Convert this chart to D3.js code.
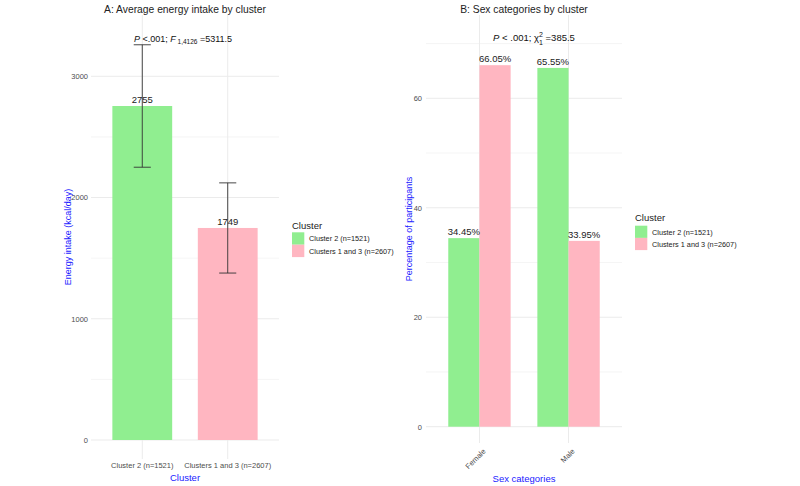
<!DOCTYPE html>
<html>
<head>
<meta charset="utf-8">
<script src="https://cdn.jsdelivr.net/npm/d3@7"></script>
<style>
  body { margin: 0; background: #fff; }
  text { font-family: "Liberation Sans", Arial, sans-serif; }
</style>
</head>
<body>
<div id="chart"></div>
<script>
// ---------------------------//
//            DATA            //
// ---------------------------//
var clusters = ["Cluster 2 (n=1521)", "Clusters 1 and 3 (n=2607)"];
var energyMean = [2755, 1749];
var energySD = [505, 372];
var sexCats = ["Female", "Male"];
var pctCluster2 = [34.45, 65.55];
var pctCluster13 = [66.05, 33.95];
var energyTicks = [0, 1000, 2000, 3000];
var energyMinor = [500, 1500, 2500];
var pctTicks = [0, 20, 40, 60];
var pctMinor = [10, 30, 50, 70];
var colors = ["#90EE90", "#FFB6C1"];

var width = 800, height = 486;
var gridCol = "#ebebeb", tickCol = "#4d4d4d", titleBlue = "#1a1aff";

var svg = d3.select("#chart").append("svg")
  .attr("width", width).attr("height", height)
  .attr("viewBox", [0, 0, width, height]);

// ---------------------------//
//        PANEL A             //
// ---------------------------//
var A = { left: 91, right: 279, top: 15, bottom: 459 };

var xA = d3.scaleBand().domain(clusters)
  .range([A.left, A.right]).paddingInner(0.3).paddingOuter(0.25);
var yA = d3.scaleLinear().domain([0, 3000]).range([440, 76.3]);

var gA = svg.append("g");

// gridlines
gA.selectAll(".minor").data(energyMinor).enter().append("line")
  .attr("x1", A.left).attr("x2", A.right)
  .attr("y1", d => yA(d)).attr("y2", d => yA(d))
  .attr("stroke", gridCol).attr("stroke-width", 0.5);
gA.selectAll(".major").data(energyTicks).enter().append("line")
  .attr("x1", A.left).attr("x2", A.right)
  .attr("y1", d => yA(d)).attr("y2", d => yA(d))
  .attr("stroke", gridCol).attr("stroke-width", 1);
gA.selectAll(".vgrid").data(clusters).enter().append("line")
  .attr("x1", d => xA(d) + xA.bandwidth() / 2).attr("x2", d => xA(d) + xA.bandwidth() / 2)
  .attr("y1", A.top).attr("y2", A.bottom)
  .attr("stroke", gridCol).attr("stroke-width", 1);

// bars
gA.selectAll(".bar").data(clusters).enter().append("rect")
  .attr("x", d => xA(d))
  .attr("width", xA.bandwidth())
  .attr("y", (d, i) => yA(energyMean[i]))
  .attr("height", (d, i) => yA(0) - yA(energyMean[i]))
  .attr("fill", (d, i) => colors[i]);

// error bars
var capW = xA.step() * 0.1;
clusters.forEach(function(c, i) {
  var cx = xA(c) + xA.bandwidth() / 2;
  var hi = yA(energyMean[i] + energySD[i]), lo = yA(energyMean[i] - energySD[i]);
  gA.append("line").attr("x1", cx).attr("x2", cx).attr("y1", hi).attr("y2", lo)
    .attr("stroke", "#333").attr("stroke-width", 0.9);
  [hi, lo].forEach(function(yy) {
    gA.append("line").attr("x1", cx - capW).attr("x2", cx + capW).attr("y1", yy).attr("y2", yy)
      .attr("stroke", "#333").attr("stroke-width", 0.9);
  });
});

// value labels
gA.selectAll(".val").data(clusters).enter().append("text")
  .attr("x", d => xA(d) + xA.bandwidth() / 2)
  .attr("y", (d, i) => yA(energyMean[i]) - 3)
  .attr("text-anchor", "middle").style("font-size", "9.5px").attr("fill", "#222")
  .text((d, i) => energyMean[i]);

// axes
gA.append("g").attr("transform", "translate(" + A.left + ",0)")
  .call(d3.axisLeft(yA).tickValues(energyTicks).tickFormat(d3.format("d")).tickSize(0).tickPadding(3))
  .call(g => g.select(".domain").remove())
  .selectAll("text").style("font-size", "7.5px").attr("fill", tickCol);
gA.append("g").attr("transform", "translate(0," + A.bottom + ")")
  .call(d3.axisBottom(xA).tickSize(0).tickPadding(4))
  .call(g => g.select(".domain").remove())
  .selectAll("text").style("font-size", "7.5px").attr("fill", tickCol);

gA.append("text").attr("x", (A.left + A.right) / 2).attr("y", 481)
  .attr("text-anchor", "middle").style("font-size", "9.5px").attr("fill", titleBlue)
  .text("Cluster");
gA.append("text").attr("transform", "translate(70.5," + ((A.top + A.bottom) / 2) + ") rotate(-90)")
  .attr("text-anchor", "middle").style("font-size", "9px").attr("fill", titleBlue)
  .text("Energy intake (kcal/day)");

gA.append("text").attr("x", (A.left + A.right) / 2).attr("y", 13)
  .attr("text-anchor", "middle").style("font-size", "10.3px").attr("fill", "#222")
  .text("A: Average energy intake by cluster");

var annA = gA.append("text").attr("x", 183).attr("y", 42)
  .attr("text-anchor", "middle").style("font-size", "9px").attr("fill", "#111");
annA.append("tspan").style("font-style", "italic").text("P");
annA.append("tspan").text(" <.001;  ");
annA.append("tspan").style("font-style", "italic").text("F");
annA.append("tspan").attr("dy", 2).style("font-size", "6.5px").text(" 1,4126");
annA.append("tspan").attr("dy", -2).text(" =5311.5");

// legend A
var legA = gA.append("g");
legA.append("text").attr("x", 292).attr("y", 228.5).style("font-size", "9.5px").attr("fill", "#222").text("Cluster");
clusters.forEach(function(c, i) {
  legA.append("rect").attr("x", 292).attr("y", 232.3 + i * 12.4).attr("width", 12.3).attr("height", 12.4).attr("fill", colors[i]);
  legA.append("text").attr("x", 309).attr("y", 232.3 + i * 12.4 + 9).style("font-size", "7.3px").attr("fill", "#222").text(c);
});

// ---------------------------//
//        PANEL B             //
// ---------------------------//
var B = { left: 426, right: 622, top: 15, bottom: 443 };

var xB = d3.scaleBand().domain(sexCats)
  .range([B.left, B.right]).paddingInner(0.3).paddingOuter(0.25);
var xBin = d3.scaleBand().domain(clusters).range([0, xB.bandwidth()]);
var yB = d3.scaleLinear().domain([0, 60]).range([426.7, 98.3]);

var gB = svg.append("g");

gB.selectAll(".minor").data(pctMinor).enter().append("line")
  .attr("x1", B.left).attr("x2", B.right)
  .attr("y1", d => yB(d)).attr("y2", d => yB(d))
  .attr("stroke", gridCol).attr("stroke-width", 0.5);
gB.selectAll(".major").data(pctTicks).enter().append("line")
  .attr("x1", B.left).attr("x2", B.right)
  .attr("y1", d => yB(d)).attr("y2", d => yB(d))
  .attr("stroke", gridCol).attr("stroke-width", 1);
gB.selectAll(".vgrid").data(sexCats).enter().append("line")
  .attr("x1", d => xB(d) + xB.bandwidth() / 2).attr("x2", d => xB(d) + xB.bandwidth() / 2)
  .attr("y1", B.top).attr("y2", B.bottom)
  .attr("stroke", gridCol).attr("stroke-width", 1);

var pctSeries = [pctCluster2, pctCluster13];
var barsB = [];
sexCats.forEach(function(s, j) {
  clusters.forEach(function(c, i) {
    barsB.push({ sex: s, cluster: c, ci: i, v: pctSeries[i][j] });
  });
});

gB.selectAll(".bar").data(barsB).enter().append("rect")
  .attr("x", d => xB(d.sex) + xBin(d.cluster))
  .attr("width", xBin.bandwidth())
  .attr("y", d => yB(d.v))
  .attr("height", d => yB(0) - yB(d.v))
  .attr("fill", d => colors[d.ci]);

gB.selectAll(".val").data(barsB).enter().append("text")
  .attr("x", d => xB(d.sex) + xBin(d.cluster) + xBin.bandwidth() / 2)
  .attr("y", d => yB(d.v) - 3)
  .attr("text-anchor", "middle").style("font-size", "9.5px").attr("fill", "#222")
  .text(d => d.v.toFixed(2) + "%");

gB.append("g").attr("transform", "translate(" + B.left + ",0)")
  .call(d3.axisLeft(yB).tickValues(pctTicks).tickSize(0).tickPadding(4))
  .call(g => g.select(".domain").remove())
  .selectAll("text").style("font-size", "7.5px").attr("fill", tickCol);

gB.selectAll(".xlab").data(sexCats).enter().append("text")
  .attr("transform", d => "translate(" + (xB(d) + xB.bandwidth() / 2 + 3) + "," + (B.bottom + 5) + ") rotate(-45)")
  .attr("text-anchor", "end").attr("dy", "0.71em")
  .style("font-size", "7.5px").attr("fill", tickCol)
  .text(d => d);

gB.append("text").attr("x", (B.left + B.right) / 2).attr("y", 482)
  .attr("text-anchor", "middle").style("font-size", "9.5px").attr("fill", titleBlue)
  .text("Sex categories");
gB.append("text").attr("transform", "translate(412," + ((B.top + B.bottom) / 2) + ") rotate(-90)")
  .attr("text-anchor", "middle").style("font-size", "9px").attr("fill", titleBlue)
  .text("Percentage of participants");

gB.append("text").attr("x", (B.left + B.right) / 2).attr("y", 13)
  .attr("text-anchor", "middle").style("font-size", "10.3px").attr("fill", "#222")
  .text("B: Sex categories by cluster");

var annB = gB.append("text").attr("x", 534).attr("y", 41)
  .attr("text-anchor", "middle").style("font-size", "9.5px").attr("fill", "#111");
annB.append("tspan").style("font-style", "italic").text("P");
annB.append("tspan").text(" < .001;  \u03C7");
annB.append("tspan").attr("dy", -4).style("font-size", "7px").text("2");
annB.append("tspan").attr("dx", -3.9).attr("dy", 8).style("font-size", "7px").text("1");
annB.append("tspan").attr("dy", -4).text(" =385.5");

var legB = gB.append("g");
legB.append("text").attr("x", 635).attr("y", 220.5).style("font-size", "9.5px").attr("fill", "#222").text("Cluster");
clusters.forEach(function(c, i) {
  legB.append("rect").attr("x", 635).attr("y", 225.7 + i * 12.2).attr("width", 12.3).attr("height", 12.2).attr("fill", colors[i]);
  legB.append("text").attr("x", 652).attr("y", 225.7 + i * 12.2 + 9).style("font-size", "7.3px").attr("fill", "#222").text(c);
});
</script>
</body>
</html>
